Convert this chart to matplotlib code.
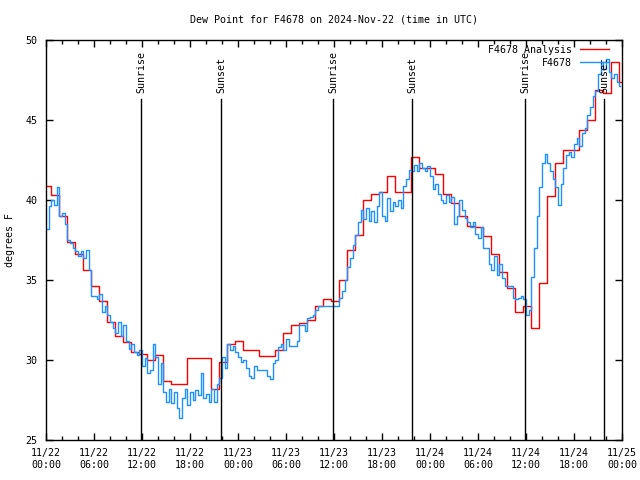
import matplotlib
matplotlib.use('Agg')
import matplotlib.pyplot as plt
from matplotlib.transforms import blended_transform_factory
import numpy as np

# Hourly analysis dew point (deg F), hour 0 = 2024-11-22 00:00 UTC
analysis_dewpoint = [
    40.9, 40.3, 39.0, 37.4, 36.6, 35.6, 34.6, 33.7, 32.35, 31.5,
    31.1, 30.5, 30.4, 30.0, 30.3, 28.7, 28.5, 28.5, 30.1, 30.1,
    30.1, 28.2, 29.9, 31.0, 31.2, 30.6, 30.6, 30.25, 30.25, 30.6,
    31.7, 32.2, 32.3, 32.5, 33.4, 33.8, 33.7, 35.0, 36.9, 37.8,
    40.0, 40.4, 40.5, 41.5, 40.5, 40.5, 42.7, 42.0, 42.0, 41.6,
    40.4, 39.8, 39.0, 38.4, 38.3, 37.75, 36.6, 35.5, 34.5, 33.0,
    33.4, 32.0, 34.8, 40.25, 42.3, 43.1, 43.1, 44.4, 45.0, 46.9,
    46.7, 48.6, 47.4,
]

# Station observations every 20 minutes (deg F)
obs_dewpoint = [
    38.2, 39.6, 40.0,  39.7, 40.8, 39.0,  39.2, 38.5, 37.5,  37.3, 37.0, 36.8,
    36.5, 36.8, 36.4,  36.9, 35.6, 34.0,  34.0, 33.8, 34.1,  33.0, 33.4, 32.8,
    32.4, 32.0, 31.7,  32.4, 31.5, 32.2,  31.2, 30.7, 31.0,  30.5, 30.3, 30.6,
    29.6, 30.1, 29.2,  29.4, 31.0, 30.2,  28.5, 29.8, 28.0,  27.4, 28.2, 27.3,
    28.0, 27.0, 26.4,  27.6, 28.2, 27.2,  28.0, 27.5, 28.1,  27.8, 29.2, 27.6,
    27.9, 27.4, 28.2,  27.4, 28.5, 28.9,  30.2, 29.5, 31.0,  30.6, 30.9, 30.5,
    30.2, 29.9, 30.0,  29.5, 29.0, 28.9,  29.6, 29.4, 29.4,  29.4, 29.4, 29.0,
    28.8, 29.8, 30.0,  30.8, 31.0, 30.6,  31.3, 30.9, 30.9,  30.9, 31.2, 32.2,
    32.2, 31.8, 32.6,  32.7, 32.8, 33.1,  33.4, 33.4, 33.4,  33.4, 33.4, 33.4,
    33.4, 33.4, 33.9,  34.3, 35.0, 35.8,  36.4, 37.2, 37.8,  38.6, 39.4, 38.8,
    39.5, 38.7, 39.3,  38.6, 39.6, 40.5,  39.0, 38.7, 40.1,  39.3, 39.9, 39.6,
    40.0, 39.5, 40.9,  41.3, 41.9, 41.8,  42.2, 41.8, 42.3,  42.0, 41.8, 42.1,
    41.5, 40.7, 41.0,  40.4, 40.0, 39.8,  40.3, 39.9, 40.2,  38.5, 39.0, 40.0,
    39.4, 38.9, 38.6,  38.3, 38.6, 37.9,  37.6, 38.3, 37.0,  37.0, 36.0, 35.6,
    36.5, 35.3, 36.0,  35.1, 34.6, 34.6,  34.6, 33.9, 33.8,  33.9, 34.0, 33.8,
    32.8, 33.1, 35.2,  37.0, 39.0, 40.8,  42.3, 42.9, 42.3,  41.8, 41.3, 40.8,
    39.7, 41.0, 42.0,  42.8, 43.0, 42.7,  43.5, 43.9, 43.4,  44.2, 44.5, 45.3,
    45.8, 46.5, 46.8,  47.9, 48.6, 48.2,  48.8, 48.0, 47.6,  47.9, 47.4, 47.1,
]

sun_times = [11.875, 21.875, 35.875, 45.75, 59.875, 69.75]
sun_labels = ['Sunrise', 'Sunset', 'Sunrise', 'Sunset', 'Sunrise', 'Sunset']

tick_hours = list(range(0, 73, 6))
tick_labels = ['11/22\n00:00', '11/22\n06:00', '11/22\n12:00', '11/22\n18:00',
               '11/23\n00:00', '11/23\n06:00', '11/23\n12:00', '11/23\n18:00',
               '11/24\n00:00', '11/24\n06:00', '11/24\n12:00', '11/24\n18:00',
               '11/25\n00:00']
y_ticks = [25, 30, 35, 40, 45, 50]

plt.rcParams['font.family'] = ['DejaVu Sans Mono']
plt.rcParams['font.size'] = 7.2

fig = plt.figure(figsize=(6.4, 4.8), dpi=100)
ax = fig.add_axes([46 / 640, 40 / 480, 576 / 640, 400 / 480])

a_vals = analysis_dewpoint + [analysis_dewpoint[-1]]
a_t = np.arange(len(a_vals)) - 0.4
ax.step(a_t, a_vals, where='post', color='#ff0000', lw=1.0, label='F4678 Analysis')

o_vals = obs_dewpoint + [obs_dewpoint[-1]]
o_t = np.arange(len(o_vals)) / 3.0
o_t[-1] = 71.75
ax.step(o_t, o_vals, where='post', color='#1e90ff', lw=1.0, label='F4678')

trans = blended_transform_factory(ax.transData, ax.transAxes)
for t, lab in zip(sun_times, sun_labels):
    ax.axvline(t, ymin=0, ymax=0.8525, color='black', lw=1.0)
    ax.text(t, 0.868, lab, transform=trans, rotation=90, ha='center', va='bottom')

ax.set_xlim(0, 72)
ax.set_ylim(25, 50)
ax.set_xticks(tick_hours)
ax.set_xticklabels(tick_labels)
ax.set_xticks(range(0, 73, 2), minor=True)
ax.set_yticks(y_ticks)
ax.tick_params(which='both', direction='in', top=True, right=True, width=1.0)
ax.tick_params(which='major', length=5)
ax.tick_params(which='minor', length=3)
ax.tick_params(axis='x', pad=6)
ax.tick_params(axis='y', pad=6)
for s in ax.spines.values():
    s.set_linewidth(1.0)

leg = ax.legend(loc='upper right', bbox_to_anchor=(0.978, 0.988), frameon=False,
                markerfirst=False, handlelength=2.9, handletextpad=0.8,
                labelspacing=0.3, borderaxespad=0, borderpad=0)

fig.text(334 / 640, 1 - 20 / 480, 'Dew Point for F4678 on 2024-Nov-22 (time in UTC)',
         ha='center', va='center')
fig.text(10 / 640, 240 / 480, 'degrees F', rotation=90, ha='center', va='center')

fig.savefig('out.png', dpi=100)
